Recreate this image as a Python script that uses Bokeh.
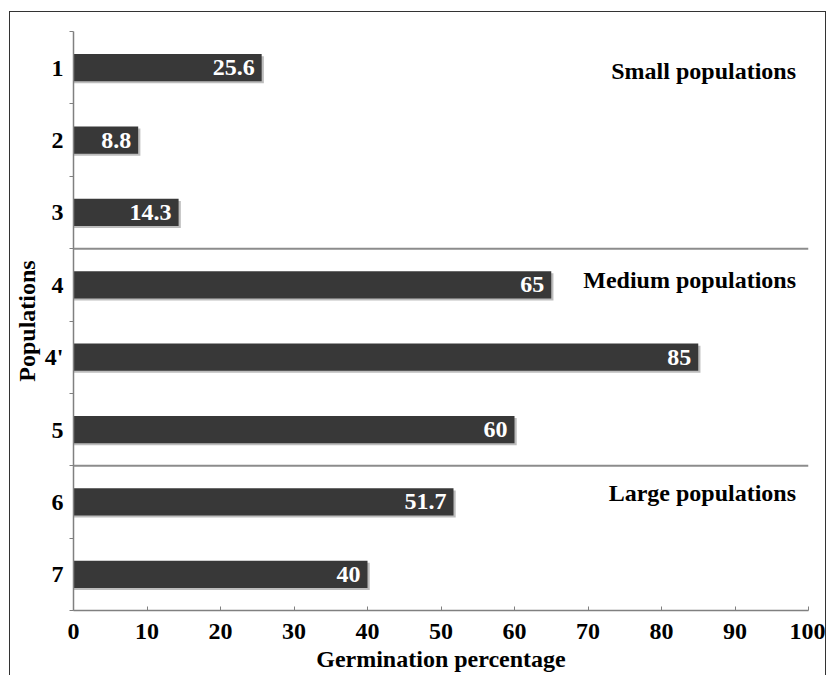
from bokeh.plotting import figure
from bokeh.models import (ColumnDataSource, Range1d, LinearAxis, FixedTicker, Span)
from bokeh.transform import dodge
from bokeh.core.properties import value
from bokeh.embed import file_html
from bokeh.resources import INLINE
import numpy as np

# ---- data ----
populations = ["1", "2", "3", "4", "4'", "5", "6", "7"]
germination = [25.6, 8.8, 14.3, 65, 85, 60, 51.7, 40]
value_labels = ["25.6", "8.8", "14.3", "65", "85", "60", "51.7", "40"]
group_names = ["Small populations", "Medium populations", "Large populations"]
group_sizes = [3, 3, 2]
group_anchor = ["1", "4", "6"]
x_ticks = [0, 10, 20, 30, 40, 50, 60, 70, 80, 90, 100]

# ---- style ----
FONT = "Liberation Serif"
FS = "24px"
group_label_dy = [3, -5, -9]   # pixel nudges of the group captions

n = len(populations)
factors = list(reversed(populations))

p = figure(width=817, height=664, y_range=factors, x_range=Range1d(0, 100),
           y_axis_type=None, x_axis_type="linear",
           output_backend="svg", toolbar_location=None,
           min_border_left=62, min_border_right=19, min_border_top=19,
           min_border_bottom=66)
p.styles = {"border-left": "1.5px solid #333333", "border-top": "1.5px solid #333333",
            "border-right": "1.5px solid #333333",
            "margin-left": "9px", "margin-top": "11px"}
p.grid.visible = False
p.outline_line_color = None
p.background_fill_color = "white"
p.border_fill_color = "white"

src = ColumnDataSource(dict(pop=populations, val=germination, lab=value_labels))

# shadow
p.hbar(y=dodge("pop", -0.028, range=p.y_range), left=0,
       right=dodge("val", 0.3), height=0.375, source=src,
       fill_color="#bdbdbd", line_color=None)
# bars
p.hbar(y="pop", left=0, right="val", height=0.375, source=src,
       fill_color="#383838", line_color=None)
# value labels
p.text(x="val", y="pop", text="lab", source=src, x_offset=-7,
       text_align="right", text_baseline="middle", text_color="white",
       text_font=value(FONT), text_font_style="bold", text_font_size=FS)

# group separators (synthetic category coordinates: boundaries between groups)
bounds = n - np.cumsum(group_sizes)[:-1]
for b in bounds:
    p.add_layout(Span(location=float(b), dimension="width",
                      line_color="#8c8c8c", line_width=2))

# group labels
gsrc = ColumnDataSource(dict(name=group_names, y=group_anchor, dy=group_label_dy))
p.text(x=98.3, y="y", text="name", source=gsrc, y_offset="dy",
       text_align="right", text_baseline="middle", text_color="black",
       text_font=value(FONT), text_font_style="bold", text_font_size=FS)

# y axis with ticks between categories
centers = [i + 0.5 for i in range(n)]
yax = LinearAxis(ticker=FixedTicker(ticks=centers, minor_ticks=list(range(n + 1))))
yax.major_label_overrides = {c: f for c, f in zip(centers, factors)}
yax.major_tick_line_color = None
yax.minor_tick_out = 4
yax.minor_tick_in = 0
yax.minor_tick_line_color = "#808080"
yax.axis_line_color = "#808080"
yax.axis_line_width = 1.5
yax.major_label_standoff = 4
yax.major_label_text_font = FONT
yax.major_label_text_font_style = "bold"
yax.major_label_text_font_size = FS
yax.major_label_text_color = "black"
yax.axis_label = "Populations"
yax.axis_label_standoff = 2
yax.axis_label_text_font = FONT
yax.axis_label_text_font_style = "bold"
yax.axis_label_text_font_size = FS
yax.axis_label_text_color = "black"
p.add_layout(yax, "left")

xax = p.xaxis[0]
xax.ticker = FixedTicker(ticks=x_ticks)
xax.minor_tick_line_color = None
xax.major_tick_in = 4
xax.major_tick_out = 0
xax.major_tick_line_color = "#808080"
xax.axis_line_color = "#808080"
xax.axis_line_width = 1.5
xax.major_label_standoff = 13
xax.major_label_text_font = FONT
xax.major_label_text_font_style = "bold"
xax.major_label_text_font_size = FS
xax.major_label_text_color = "black"
xax.axis_label = "Germination percentage"
xax.axis_label_standoff = 4
xax.axis_label_text_font = FONT
xax.axis_label_text_font_style = "bold"
xax.axis_label_text_font_size = FS
xax.axis_label_text_color = "black"

open("out.html", "w").write(file_html(p, INLINE))
